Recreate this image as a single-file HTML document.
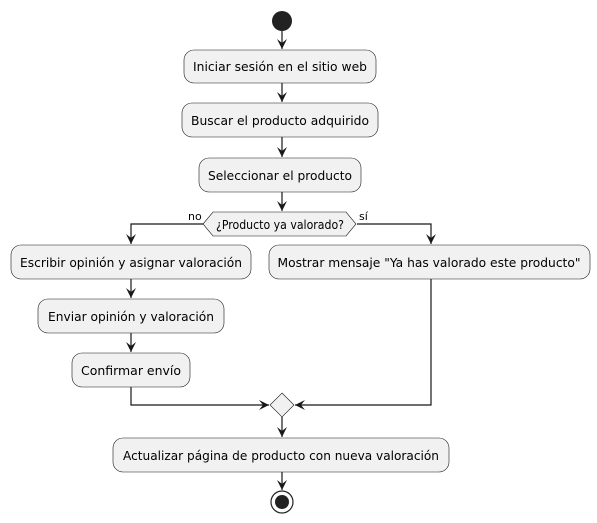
<!DOCTYPE html>
<html><head><meta charset="utf-8"><style>
html,body{margin:0;padding:0;background:#fff}
svg{display:block}
text{font-family:"DejaVu Sans","Liberation Sans",sans-serif;font-size:12px;fill:#000}
.b{fill:#f1f1f1;stroke:#181818;stroke-width:0.6}
.l{stroke:#181818;stroke-width:1.2;fill:none}
.a{fill:#181818}
</style></head><body>
<svg width="597" height="523" viewBox="0 0 597 523" xmlns="http://www.w3.org/2000/svg">
<defs>
<marker id="ar" viewBox="0 0 12 12" refX="6" refY="10" markerWidth="12" markerHeight="12" markerUnits="userSpaceOnUse" orient="auto-start-reverse">
</marker>
</defs>
<!-- start -->
<circle cx="282" cy="21" r="10" fill="#222"/>
<!-- arrows helper: vertical arrow down ending at y -->
<g class="l">
<line x1="282" y1="31" x2="282" y2="49"/>
<line x1="282" y1="83" x2="282" y2="102"/>
<line x1="282" y1="137" x2="282" y2="157"/>
<line x1="282" y1="192" x2="282" y2="211"/>
<polyline points="203,224 131,224 131,244"/>
<polyline points="357,224 431,224 431,244"/>
<line x1="131" y1="279" x2="131" y2="298"/>
<line x1="131" y1="333" x2="131" y2="352"/>
<polyline points="131,387 131,405 269,405"/>
<polyline points="431,279 431,405 295,405"/>
<line x1="282" y1="417" x2="282" y2="437"/>
<line x1="282" y1="472" x2="282" y2="490"/>
</g>
<g class="a">
<path d="M277,39 L282,49 L287,39 L282,43 Z"/>
<path d="M277,92 L282,102 L287,92 L282,96 Z"/>
<path d="M277,147 L282,157 L287,147 L282,151 Z"/>
<path d="M277,201 L282,211 L287,201 L282,205 Z"/>
<path d="M126,234 L131,244 L136,234 L131,238 Z"/>
<path d="M426,234 L431,244 L436,234 L431,238 Z"/>
<path d="M126,288 L131,298 L136,288 L131,292 Z"/>
<path d="M126,342 L131,352 L136,342 L131,346 Z"/>
<path d="M259,400 L269,405 L259,410 L263,405 Z"/>
<path d="M305,400 L295,405 L305,410 L301,405 Z"/>
<path d="M277,427 L282,437 L287,427 L282,431 Z"/>
<path d="M277,480 L282,490 L287,480 L282,484 Z"/>
</g>
<!-- boxes -->
<rect class="b" x="184" y="50" width="192" height="33" rx="10"/>
<text x="280" y="71" text-anchor="middle" textLength="174" lengthAdjust="spacingAndGlyphs">Iniciar sesión en el sitio web</text>
<rect class="b" x="182" y="103" width="196" height="34" rx="10"/>
<text x="280" y="125" text-anchor="middle" textLength="178" lengthAdjust="spacingAndGlyphs">Buscar el producto adquirido</text>
<rect class="b" x="199" y="158" width="162" height="34" rx="10"/>
<text x="280" y="180" text-anchor="middle" textLength="144" lengthAdjust="spacingAndGlyphs">Seleccionar el producto</text>
<polygon class="b" points="203,224 213,212 346,212 356,224 346,236 213,236"/>
<text x="280" y="229" text-anchor="middle" textLength="128" lengthAdjust="spacingAndGlyphs">¿Producto ya valorado?</text>
<text x="188" y="220" font-size="11" style="font-size:11px">no</text>
<text x="359" y="220" style="font-size:11px">sí</text>
<rect class="b" x="11" y="245" width="240" height="34" rx="10"/>
<text x="131" y="267" text-anchor="middle" textLength="222" lengthAdjust="spacingAndGlyphs">Escribir opinión y asignar valoración</text>
<rect class="b" x="269" y="245" width="321" height="34" rx="10"/>
<text x="429" y="267" text-anchor="middle" textLength="303" lengthAdjust="spacingAndGlyphs">Mostrar mensaje "Ya has valorado este producto"</text>
<rect class="b" x="38" y="299" width="186" height="34" rx="10"/>
<text x="131" y="321" text-anchor="middle" textLength="166" lengthAdjust="spacingAndGlyphs">Enviar opinión y valoración</text>
<rect class="b" x="72" y="353" width="118" height="34" rx="10"/>
<text x="131" y="375" text-anchor="middle" textLength="100" lengthAdjust="spacingAndGlyphs">Confirmar envío</text>
<polygon class="b" points="282,393 294,405 282,417 270,405"/>
<rect class="b" x="113" y="438" width="336" height="34" rx="10"/>
<text x="281" y="460" text-anchor="middle" textLength="316" lengthAdjust="spacingAndGlyphs">Actualizar página de producto con nueva valoración</text>
<!-- end -->
<circle cx="282" cy="502" r="11" fill="none" stroke="#222" stroke-width="1.2"/>
<circle cx="282" cy="502" r="7" fill="#222"/>
</svg>
</body></html>
